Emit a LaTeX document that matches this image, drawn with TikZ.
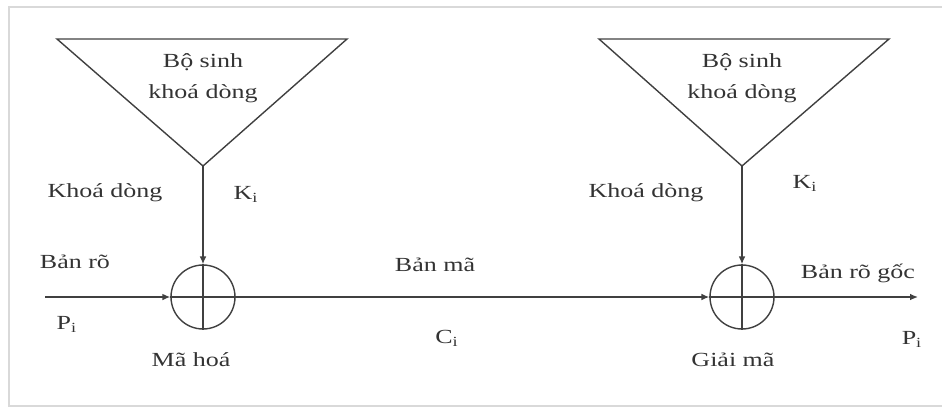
\documentclass[tikz,border=0pt]{standalone}
\usepackage{fontspec}
\setmainfont[FakeStretch=1.3]{Liberation Serif}
\usetikzlibrary{arrows.meta}
\begin{document}
\begin{tikzpicture}[x=0.5pt,y=-0.5pt,
  lbl/.style={font=\fontsize{10}{15.5}\selectfont,text=black!80,
              inner sep=0pt,align=center},
  ln/.style={draw=black!75,line width=0.7pt},
  xorc/.style={ln,circle,minimum size=32pt,inner sep=0pt},
  arrow/.style={ln,-{Latex[length=4pt,width=3.4pt]}}
]
  \useasboundingbox (0,0) rectangle (942,408);
  \draw[gray!30,line width=1.4pt] (942,7) -- (9,7) -- (9,406) -- (942,406);
  % key stream generators
  \coordinate (genA) at (203,166);
  \coordinate (genB) at (742,166);
  \draw[ln] (57,39) -- (347,39) -- (genA) -- cycle;
  \draw[ln] (599,39) -- (889,39) -- (genB) -- cycle;
  \node[lbl] (genAtxt) at (203,78) {Bộ sinh\\khoá dòng};
  \node[lbl] (genBtxt) at (742,78) {Bộ sinh\\khoá dòng};
  % xor units
  \node[xorc] (enc) at (203,297) {};
  \node[xorc] (dec) at (742,297) {};
  \draw[ln] (enc.north) -- (enc.south);
  \draw[ln] (dec.north) -- (dec.south);
  \coordinate (src) at (45,297);
  \coordinate (dst) at (918,297);
  \draw[arrow] (genA) -- (enc.north);
  \draw[arrow] (genB) -- (dec.north);
  \draw[arrow] (src) -- (enc.west);
  \draw[ln] (enc.west) -- (enc.east);
  \draw[arrow] (enc.east) -- (dec.west);
  \draw[ln] (dec.west) -- (dec.east);
  \draw[arrow] (dec.east) -- (dst);
  % labels
  \node[lbl] (keyA) at (105,193) {Khoá dòng};
  \node[lbl] (kiA) at (246,194) {K\textsubscript{i}};
  \node[lbl] (keyB) at (646,193) {Khoá dòng};
  \node[lbl] (kiB) at (805,183) {K\textsubscript{i}};
  \node[lbl] (plain) at (75,262) {Bản rõ};
  \node[lbl] (piA) at (67,324) {P\textsubscript{i}};
  \node[lbl] (encname) at (191,360) {Mã hoá};
  \node[lbl] (cipher) at (435,265) {Bản mã};
  \node[lbl] (ci) at (447,338) {C\textsubscript{i}};
  \node[lbl] (decname) at (733,360) {Giải mã};
  \node[lbl] (orig) at (858,273) {Bản rõ gốc};
  \node[lbl] (piB) at (912,339) {P\textsubscript{i}};
\end{tikzpicture}
\end{document}
